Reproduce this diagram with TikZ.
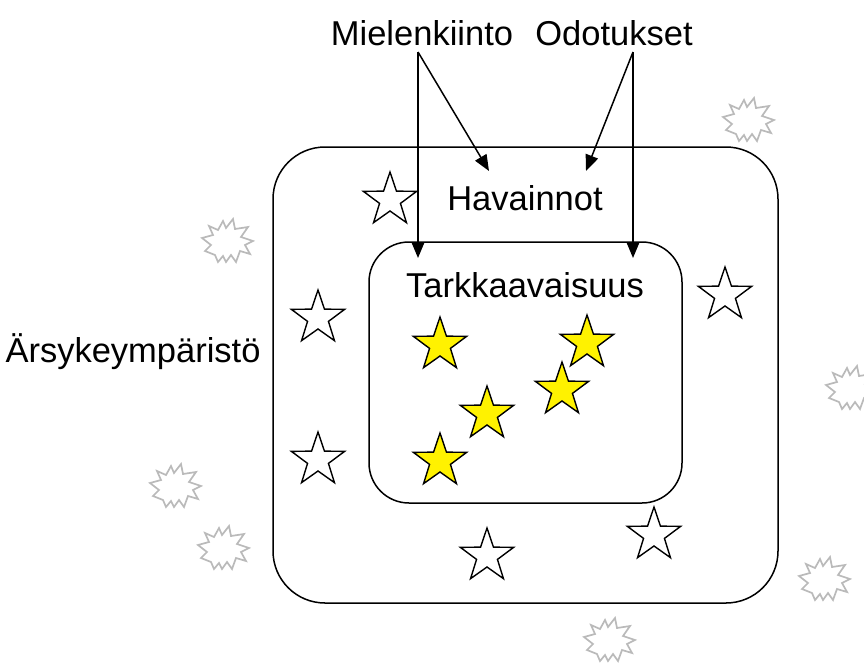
\documentclass[tikz,border=0pt]{standalone}
\usepackage{fontspec}
\setmainfont{Liberation Sans}
\usetikzlibrary{shapes.geometric,arrows.meta}
\tikzset{
  frame/.style={draw=black, line width=1.5pt},
  lbl/.style={font=\fontsize{34.5}{40}\selectfont, inner sep=0pt},
  whitestar/.style={star, star points=5, star point ratio=2.55, minimum size=56pt,
    inner sep=0pt, draw=black, line width=1.4pt, fill=white},
  yellowstar/.style={whitestar, fill=yellow},
  arr/.style={line width=1.5pt, -{Triangle[length=16pt,width=13pt]}},
  burst/.pic={
    \draw[black!27, line width=1.7pt, line join=miter, miter limit=20]
      (5,-23) -- (7,-13) -- (20,-15) -- (13,-5) -- (25,-1) -- (17,3)
      -- (22,12) -- (12,9) -- (8,20) -- (3,13) -- (-2,20) -- (-5,14)
      -- (-10,20) -- (-13,13) -- (-23,9) -- (-17,3) -- (-26,-4) -- (-15,-7)
      -- (-19,-16) -- (-10,-12) -- (-5,-21) -- (-2,-14) -- cycle;
  }
}
\begin{document}
\begin{tikzpicture}[x=1pt, y=-1pt]
  \useasboundingbox (0,0) rectangle (864,670);

  % containers
  \draw[frame, rounded corners=52pt] (273,147) rectangle (778,603);
  \draw[frame, rounded corners=40pt] (369,242) rectangle (682,503);

  % labels
  \node[lbl] (mielenkiinto) at (422,33) {Mielenkiinto};
  \node[lbl] (odotukset) at (614,33) {Odotukset};
  \node[lbl] (havainnot) at (525,198) {Havainnot};
  \node[lbl] (tarkkaavaisuus) at (525,285) {Tarkkaavaisuus};
  \node[lbl] (arsyke) at (133,352) {Ärsykeympäristö};

  % arrows from the two influences
  \coordinate (m) at (418,52);
  \coordinate (o) at (633,52);
  \coordinate (mdown) at (418,258);
  \coordinate (mdiag) at (489,171);
  \coordinate (odown) at (633,258);
  \coordinate (odiag) at (586,171);
  \draw[arr] (m) -- (mdown);
  \draw[arr] (m) -- (mdiag);
  \draw[arr] (o) -- (odown);
  \draw[arr] (o) -- (odiag);

  % unnoticed stimuli
  \node[whitestar] (w1) at (390,200) {};
  \node[whitestar] (w2) at (318,318) {};
  \node[whitestar] (w3) at (725,295) {};
  \node[whitestar] (w4) at (318,460) {};
  \node[whitestar] (w5) at (487,556) {};
  \node[whitestar] (w6) at (654,535) {};

  % attended stimuli
  \node[yellowstar] (y1) at (440,345) {};
  \node[yellowstar] (y2) at (587,343) {};
  \node[yellowstar] (y3) at (562,390) {};
  \node[yellowstar] (y4) at (487,414) {};
  \node[yellowstar] (y5) at (440,461) {};

  % background noise
  \pic at (228,242) {burst};
  \pic at (749,121) {burst};
  \pic at (852,389) {burst};
  \pic at (176,487) {burst};
  \pic at (224,549) {burst};
  \pic at (825,580) {burst};
  \pic at (610,641) {burst};
\end{tikzpicture}
\end{document}
